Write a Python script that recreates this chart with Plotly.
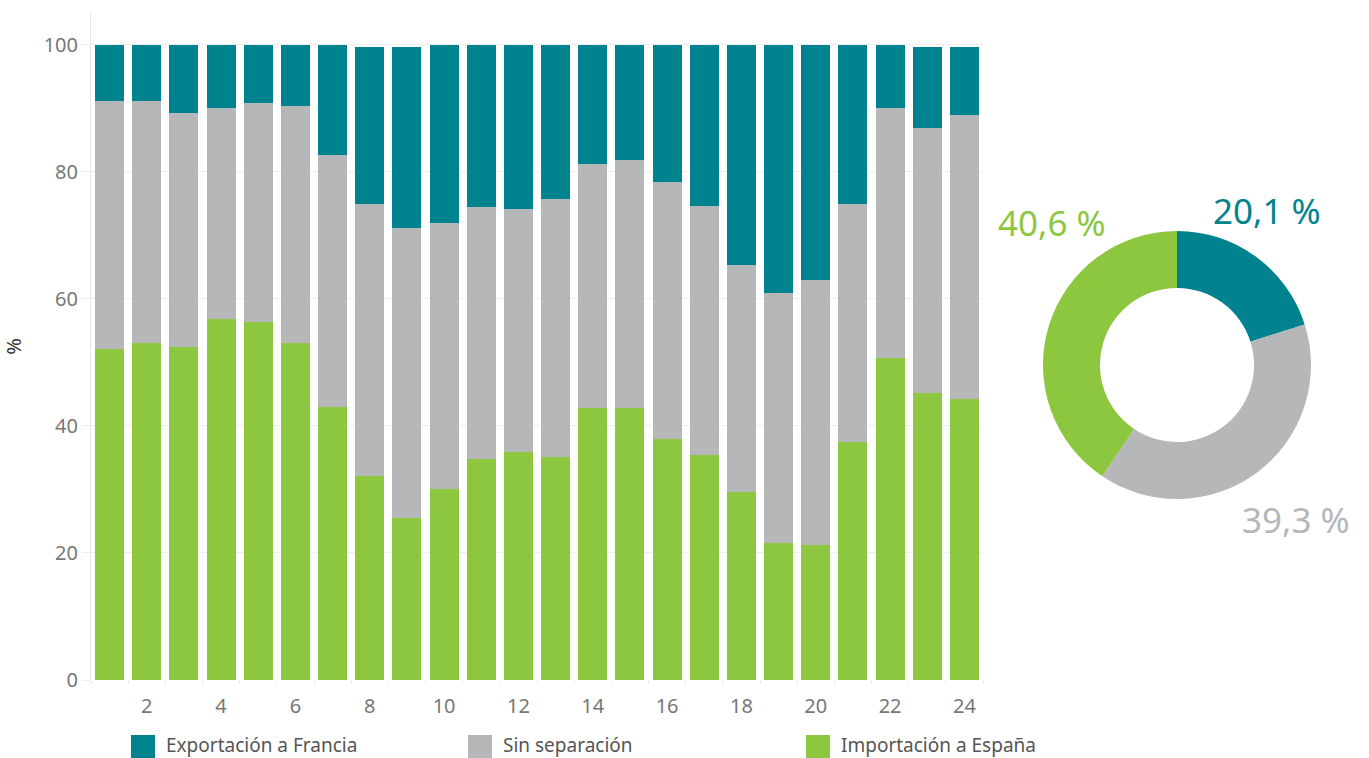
import plotly.graph_objects as go

# --- data -------------------------------------------------------
hours = list(range(1, 25))

importacion = [52.1, 53.1, 52.4, 56.9, 56.4, 53.1, 43.0, 32.1, 25.5, 30.1, 34.8, 35.9,
               35.1, 42.8, 42.8, 37.9, 35.4, 29.6, 21.6, 21.3, 37.5, 50.7, 45.2, 44.3]
sin_separacion = [39.1, 38.1, 36.9, 33.2, 34.5, 37.3, 39.7, 42.9, 45.7, 41.9, 39.7, 38.3,
                  40.6, 38.5, 39.1, 40.5, 39.2, 35.8, 39.3, 41.7, 37.5, 39.4, 41.7, 44.7]
exportacion = [8.8, 8.8, 10.7, 9.9, 9.1, 9.6, 17.3, 24.7, 28.5, 28.0, 25.5, 25.8,
               24.3, 18.7, 18.1, 21.6, 25.4, 34.6, 39.1, 37.0, 25.0, 9.9, 12.8, 10.7]

series_names = ["Exportación a Francia", "Sin separación", "Importación a España"]
series_colors = ["#00838F", "#B6B7B9", "#8DC63F"]
donut_values = [20.1, 39.3, 40.6]

y_ticks = [0, 20, 40, 60, 80, 100]

# --- page geometry (pixels) ---------------------------------------
W, H = 1369, 758
ML, MR, MT, MB = 91, 0, 13, 78
PW = W - ML - MR
PH = H - MT - MB


def px_x(px):
    return (px - ML) / PW


def px_y(py):
    return (H - MB - py) / PH


fig = go.Figure()

# stacked bars: green bottom, gray middle, teal top
stack = [(importacion, 2), (sin_separacion, 1), (exportacion, 0)]
for vals, idx in stack:
    fig.add_trace(go.Bar(
        x=hours,
        y=vals,
        name=series_names[idx],
        marker=dict(color=series_colors[idx], line=dict(width=0)),
        showlegend=False,
        hovertemplate="%{x}: %{y:.1f} %<extra>" + series_names[idx] + "</extra>",
    ))

# donut with the daily shares
fig.add_trace(go.Pie(
    labels=series_names,
    values=donut_values,
    marker=dict(colors=series_colors, line=dict(width=0)),
    hole=0.575,
    sort=False,
    direction="clockwise",
    rotation=0,
    textinfo="none",
    showlegend=False,
    domain=dict(x=[px_x(1043), px_x(1311)], y=[px_y(499), px_y(231)]),
))

# donut labels
label_pos = [(1267, 210), (1296, 519), (1052, 222)]
for v, c, (lx, ly) in zip(donut_values, series_colors, label_pos):
    fig.add_annotation(
        x=px_x(lx), y=px_y(ly), xref="paper", yref="paper",
        text=f"{v:.1f}".replace(".", ",") + " %",
        showarrow=False, xanchor="center", yanchor="middle",
        font=dict(size=35, color=c),
    )

# legend drawn as swatches + text below the bars
legend_x = [131, 468, 806]
for name, c, lx in zip(series_names, series_colors, legend_x):
    fig.add_shape(
        type="rect", xref="paper", yref="paper",
        x0=px_x(lx), x1=px_x(lx + 24), y0=px_y(759), y1=px_y(735),
        fillcolor=c, line=dict(width=0),
    )
    fig.add_annotation(
        x=px_x(lx + 33), y=px_y(745), xref="paper", yref="paper",
        text=name, showarrow=False, xanchor="left", yanchor="middle",
        font=dict(size=19, color="#555555"),
    )

fig.update_layout(
    width=W,
    height=H,
    margin=dict(l=ML, r=MR, t=MT, b=MB),
    barmode="stack",
    bargap=0.22,
    plot_bgcolor="white",
    paper_bgcolor="white",
    font=dict(family="Noto Sans, sans-serif", color="#555555"),
    xaxis=dict(
        domain=[0, px_x(983)],
        range=[0.5, 24.5],
        tickmode="linear", tick0=2, dtick=2,
        ticks="outside", ticklen=8, tickcolor="rgba(0,0,0,0)",
        tickfont=dict(size=20, color="#777777"),
        showgrid=False, zeroline=False, showline=False,
        minor=dict(ticks="outside", tick0=0.5, dtick=1, ticklen=3, tickcolor="#e4e4e4"),
        fixedrange=True,
    ),
    yaxis=dict(
        range=[0, 105],
        tickvals=y_ticks,
        ticks="outside", ticklen=8, tickcolor="#eeeeee",
        tickfont=dict(size=20, color="#777777"),
        showgrid=True, gridcolor="#efefef", gridwidth=1,
        zeroline=False,
        showline=True, linecolor="#e6e6e6", linewidth=1,
        title=dict(text="%", font=dict(size=20, color="#333333"), standoff=30),
        fixedrange=True,
    ),
)

# the page body has an 8px default margin; drop it so the figure sits at 0,0
fig.write_html(
    "out.html",
    config={"displayModeBar": False},
    post_script="document.body.style.margin='0';",
)
